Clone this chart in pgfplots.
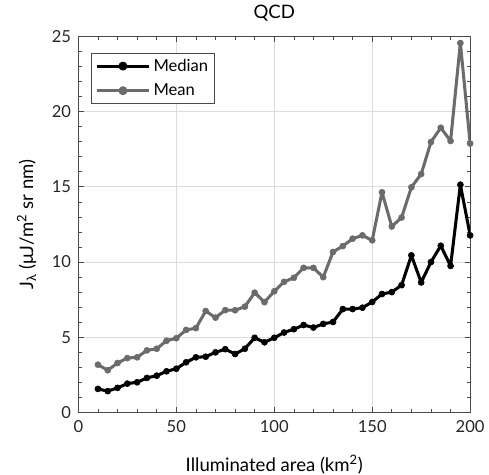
\documentclass[border=0pt]{standalone}
\usepackage{fontspec}
\setmainfont{Lato}
\usepackage{pgfplots}
\pgfplotsset{compat=1.18}
\definecolor{meangray}{HTML}{6B6B6B}
\definecolor{gridgray}{HTML}{DCDCDC}
\definecolor{axgray}{HTML}{4A4A4A}
\begin{document}
\begin{tikzpicture}
\begin{axis}[
  scale only axis,
  width=295.5pt, height=283.5pt,
  xmin=0, xmax=200, ymin=0, ymax=25,
  xtick={0,50,100,150,200}, ytick={0,5,10,15,20,25},
  minor x tick num=4, minor y tick num=4,
  tick align=inside,
  major tick length=4pt, minor tick length=2.5pt,
  every tick/.style={axgray, line width=0.5pt},
  axis line style={axgray, line width=0.6pt},
  grid=major,
  major grid style={gridgray, line width=0.6pt},
  /pgf/number format/assume math mode=true,
  ticklabel style={font=\fontsize{12.5}{14}\selectfont, text=black!85},
  xticklabel style={yshift=-2.5pt},
  yticklabel style={xshift=-2pt},
  title={QCD},
  title style={font=\fontsize{14}{16}\selectfont, at={(axis description cs:0.5,1.0265)}, anchor=base, inner sep=0pt},
  xlabel={Illuminated area (km\textsuperscript{2})},
  xlabel style={font=\fontsize{14}{16}\selectfont, at={(axis description cs:0.5,-0.157)}, anchor=base, inner sep=0pt},
  ylabel={J\textsubscript{λ} (μJ/m\textsuperscript{2} sr nm)},
  ylabel style={font=\fontsize{14}{16}\selectfont, at={(axis description cs:-0.132,0.5)}, anchor=center, inner sep=0pt},
  legend style={at={(axis description cs:0.033,0.957)}, anchor=north west, draw=axgray, line width=0.6pt,
    font=\fontsize{12.5}{14}\selectfont, row sep=4pt, inner sep=2.5pt},
  legend cell align=left,
  legend image code/.code={\draw[#1] (0cm,0cm) -- (1.4cm,0cm); \fill[#1] (0.7cm,0cm) circle (2.2pt);},
]
\addplot[black, line width=2.3pt, line join=round, mark=*, mark size=2.3pt, mark options={solid, line width=0.4pt}] coordinates {
(10,1.56)(15,1.41)(20,1.63)(25,1.91)(30,2.0)(35,2.29)(40,2.44)(45,2.73)(50,2.9)
(55,3.33)(60,3.66)(65,3.7)(70,3.99)(75,4.2)(80,3.88)(85,4.23)(90,4.96)(95,4.66)
(100,4.96)(105,5.31)(110,5.53)(115,5.81)(120,5.64)(125,5.88)(130,6.01)(135,6.87)
(140,6.87)(145,6.96)(150,7.34)(155,7.87)(160,8.0)(165,8.46)(170,10.44)(175,8.64)
(180,10.0)(185,11.08)(190,9.74)(195,15.14)(200,11.77)
};
\addlegendentry{Median}
\addplot[meangray, line width=2.3pt, line join=round, mark=*, mark size=2.3pt, mark options={solid, line width=0.4pt}] coordinates {
(10,3.17)(15,2.8)(20,3.28)(25,3.61)(30,3.66)(35,4.12)(40,4.23)(45,4.76)(50,4.93)
(55,5.48)(60,5.6)(65,6.74)(70,6.3)(75,6.8)(80,6.79)(85,7.03)(90,7.96)(95,7.33)
(100,8.05)(105,8.68)(110,8.95)(115,9.61)(120,9.61)(125,8.99)(130,10.67)(135,11.06)
(140,11.55)(145,11.77)(150,11.44)(155,14.64)(160,12.36)(165,12.96)(170,14.97)(175,15.85)
(180,17.98)(185,18.93)(190,18.05)(195,24.56)(200,17.88)
};
\addlegendentry{Mean}
\end{axis}
\path (current axis.south west) ++(-59.1pt,-46pt);
\path (current axis.north east) ++(12.2pt,27.5pt);
\end{tikzpicture}
\end{document}
